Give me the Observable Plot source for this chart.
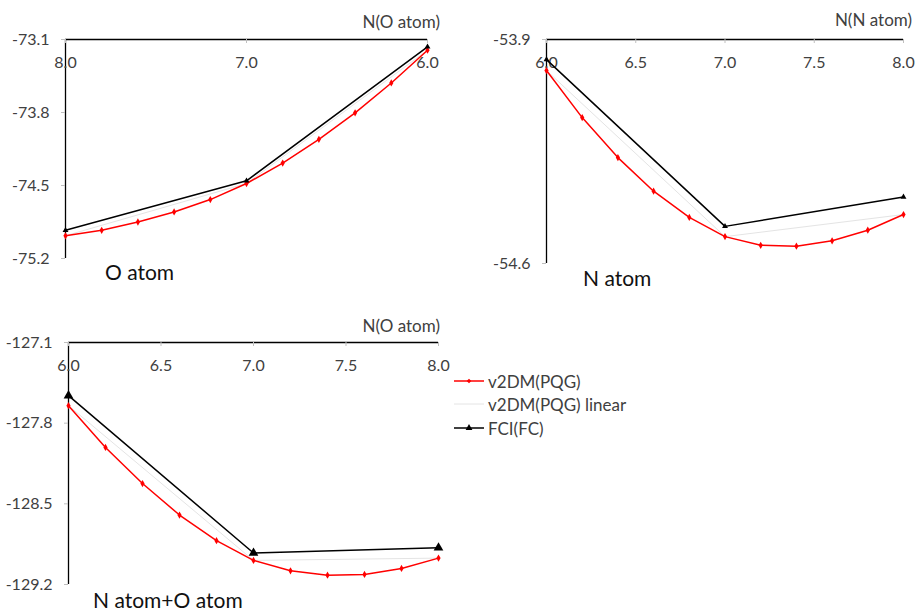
<!DOCTYPE html>
<html>
<head>
<meta charset="utf-8">
<script src="https://cdn.jsdelivr.net/npm/d3@7"></script>
<script src="https://cdn.jsdelivr.net/npm/@observablehq/plot@0.6"></script>
<style>
  html, body { margin: 0; padding: 0; background: #fff; }
  #page { position: relative; width: 918px; height: 611px; overflow: hidden;
          font-family: Lato, "Open Sans", sans-serif; color: #404040; }
  .panel { position: absolute; }
  .lab { position: absolute; white-space: nowrap; font-size: 17px; line-height: 1; transform: translateY(-50%); }
  .axlab { transform: translate(-100%, -50%); }
  .title { position: absolute; white-space: nowrap; font-size: 21px; line-height: 1; color: #111; transform: translateY(-50%); }
  .legend { position: absolute; left: 454px; top: 370px; font-size: 17px; }
  .legend .row { position: absolute; left: 0; height: 20px; display: flex; align-items: center; white-space: nowrap; }
  .legend svg { margin-right: 4px; }
</style>
</head>
<body>
<div id="page"></div>
<script>
// Electron number N on the x axis (fractional occupations)
const nGrid = [6.0, 6.2, 6.4, 6.6, 6.8, 7.0, 7.2, 7.4, 7.6, 7.8, 8.0];
const nInt = [6, 7, 8];

// O atom energies (hartree)
const oV2dm = [-73.203, -73.517, -73.803, -74.057, -74.285, -74.481, -74.635, -74.754, -74.850, -74.930, -74.982];
const oFci = [-73.171, -74.455, -74.930];

// N atom energies
const nV2dm = [-53.997, -54.144, -54.269, -54.374, -54.456, -54.516, -54.543, -54.546, -54.529, -54.496, -54.447];
const nFci = [-53.963, -54.484, -54.392];

// N atom + O atom energies
const noV2dm = [-127.648, -128.011, -128.324, -128.597, -128.820, -128.991, -129.081, -129.119, -129.113, -129.061, -128.971];
const noFci = [-127.561, -128.927, -128.881];

// Tick labels
const oXTicks = [8.0, 7.0, 6.0];
const oYTicks = [-73.1, -73.8, -74.5, -75.2];
const nXTicks = [6.0, 6.5, 7.0, 7.5, 8.0];
const nYTicks = [-53.9, -54.6];
const noXTicks = [6.0, 6.5, 7.0, 7.5, 8.0];
const noYTicks = [-127.1, -127.8, -128.5, -129.2];

const RED = "#ff0000";
const GREY_LINEAR = "#e4e4e4";
const FONT = "Lato, 'Open Sans', sans-serif";
const TICK_FONT = 16;

function panel({xDomain, yDomain, xTicks, yTicks, v2dm, fci, width, height, margins, triR}) {
  const curve = nGrid.map((n, i) => ({n, e: v2dm[i]}));
  const linear = curve.filter(d => nInt.includes(d.n));
  const exact = nInt.map((n, i) => ({n, e: fci[i]}));
  const [mt, mr, mb, ml] = margins;
  const innerH = height - mt - mb;
  return Plot.plot({
    width, height,
    marginTop: mt, marginRight: mr, marginBottom: mb, marginLeft: ml,
    style: {fontFamily: FONT, fontSize: TICK_FONT + "px", color: "#404040", background: "transparent", overflow: "visible"},
    x: {domain: xDomain},
    y: {domain: yDomain},
    marks: [
      // left and top axis lines
      Plot.ruleX([xDomain[0]], {stroke: "#000", strokeWidth: 1.3}),
      Plot.ruleY([yDomain[1]], {stroke: "#000", strokeWidth: 1.3}),
      // short inward tick marks along the top axis
      Plot.ruleX(xTicks, {x: d => d, insetBottom: innerH - 4, stroke: "#bfbfbf"}),
      Plot.text(xTicks, {x: d => d, text: d => d.toFixed(1), frameAnchor: "top", lineAnchor: "middle", dy: 23, fill: "#404040", fontSize: TICK_FONT}),
      Plot.axisX({ticks: [], label: null}),
      Plot.axisY({ticks: yTicks, tickSize: 4, tickPadding: 12, tickFormat: d => d.toFixed(1),
                  stroke: "#bfbfbf", fill: "#404040", fontSize: TICK_FONT, label: null}),
      Plot.line(linear, {x: "n", y: "e", stroke: GREY_LINEAR, strokeWidth: 1}),
      Plot.line(exact, {x: "n", y: "e", stroke: "#000", strokeWidth: 1.5}),
      Plot.line(curve, {x: "n", y: "e", stroke: RED, strokeWidth: 1.5}),
      Plot.dot(curve, {x: "n", y: "e", symbol: "diamond", r: 2.2, fill: RED, stroke: null}),
      Plot.dot(exact, {x: "n", y: "e", symbol: "triangle", r: triR, fill: "#000", stroke: null})
    ]
  });
}

const page = document.getElementById("page");

function place(node, left, top) {
  node.classList.add("panel");
  node.style.left = left + "px";
  node.style.top = top + "px";
  page.appendChild(node);
}

function text(cls, str, left, top) {
  const d = document.createElement("div");
  d.className = cls;
  d.textContent = str;
  d.style.left = left + "px";
  d.style.top = top + "px";
  page.appendChild(d);
}

// O atom: N decreasing from left to right
place(panel({xDomain: [8, 6], yDomain: [-75.2, -73.1], xTicks: oXTicks, yTicks: oYTicks,
             v2dm: oV2dm, fci: oFci, width: 460, height: 300, margins: [39, 33, 42, 65], triR: 2.2}), 0, 0);

// N atom
place(panel({xDomain: [6, 8], yDomain: [-54.6, -53.9], xTicks: nXTicks, yTicks: nYTicks,
             v2dm: nV2dm, fci: nFci, width: 458, height: 300, margins: [39, 15, 37, 86], triR: 2.2}), 460, 0);

// N atom + O atom
place(panel({xDomain: [6, 8], yDomain: [-129.2, -127.1], xTicks: noXTicks, yTicks: noYTicks,
             v2dm: noV2dm, fci: noFci, width: 460, height: 311, margins: [42, 22, 27, 68], triR: 3.6}), 0, 300);

// axis titles and panel names
text("lab axlab", "N(O atom)", 440, 21);
text("lab axlab", "N(N atom)", 912, 19);
text("lab axlab", "N(O atom)", 440, 325);
text("title", "O atom", 105, 271);
text("title", "N atom", 583, 277);
text("title", "N atom+O atom", 93, 599);

// legend
const legendItems = [
  {label: "v2DM(PQG)", stroke: RED, width: 1.5, marker: "diamond"},
  {label: "v2DM(PQG) linear", stroke: GREY_LINEAR, width: 1, marker: null},
  {label: "FCI(FC)", stroke: "#000", width: 1.5, marker: "triangle"}
];
const legend = document.createElement("div");
legend.className = "legend";
legendItems.forEach((item, i) => {
  const row = document.createElement("div");
  row.className = "row";
  row.style.top = [1, 24, 48][i] + "px";
  const ns = "http://www.w3.org/2000/svg";
  const sw = document.createElementNS(ns, "svg");
  sw.setAttribute("width", 30); sw.setAttribute("height", 20);
  const ln = document.createElementNS(ns, "line");
  ln.setAttribute("x1", 0); ln.setAttribute("x2", 30);
  ln.setAttribute("y1", 10); ln.setAttribute("y2", 10);
  ln.setAttribute("stroke", item.stroke); ln.setAttribute("stroke-width", item.width);
  sw.appendChild(ln);
  if (item.marker) {
    const p = document.createElementNS(ns, "path");
    const sym = item.marker === "diamond" ? d3.symbolDiamond2 : d3.symbolTriangle;
    p.setAttribute("d", d3.symbol(sym, item.marker === "diamond" ? 14 : 20)());
    p.setAttribute("transform", "translate(15,10)");
    p.setAttribute("fill", item.stroke);
    sw.appendChild(p);
  }
  row.appendChild(sw);
  const t = document.createElement("span");
  t.textContent = item.label;
  row.appendChild(t);
  legend.appendChild(row);
});
page.appendChild(legend);
</script>
</body>
</html>
